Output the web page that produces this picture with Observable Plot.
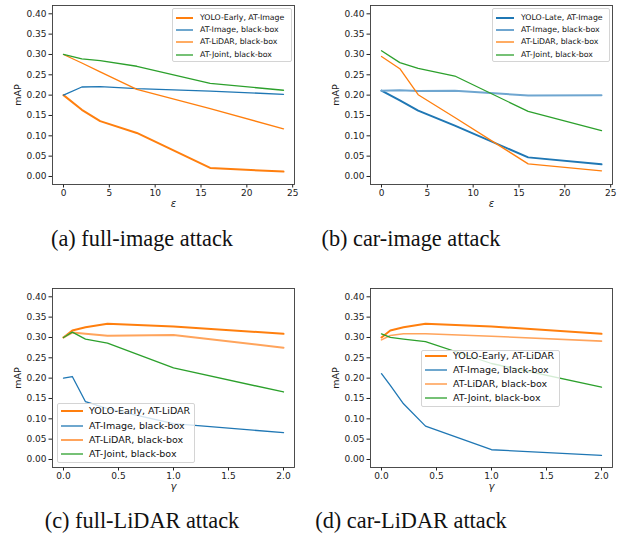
<!DOCTYPE html>
<html><head><meta charset="utf-8">
<script src="https://cdn.jsdelivr.net/npm/d3@7"></script>
<script src="https://cdn.jsdelivr.net/npm/@observablehq/plot@0.6"></script>
<style>
body{margin:0;background:#fff;overflow:hidden;}
#root{position:relative;width:618px;height:537px;}
.panel{position:absolute;}
.panel svg{overflow:visible;}
.cap{position:absolute;font-family:"Liberation Serif","Times New Roman",serif;font-size:22.3px;line-height:24px;color:#111;white-space:nowrap;transform:translateX(-50%);}
.leg{position:absolute;background:rgba(255,255,255,0.8);border:1px solid #d4d4d4;border-radius:2px;box-sizing:border-box;}
.leg .row{position:absolute;font-family:"DejaVu Sans",sans-serif;white-space:nowrap;color:#111;}
.leg svg{position:absolute;overflow:visible;}
g[aria-label="x-axis label"] text{font-style:italic;font-size:10px;}
g[aria-label="y-axis label"] text{font-size:9.5px;}
</style>
</head><body><div id="root"></div>
<script>
// ---- data ----
const epsValues = [0, 2, 4, 8, 16, 24];
const gammaValues = [0, 0.08, 0.2, 0.4, 1.0, 2.0];
const yTickValues = [0, 0.05, 0.10, 0.15, 0.20, 0.25, 0.30, 0.35, 0.40];
const epsTicks = [0, 5, 10, 15, 20, 25];
const gammaTicks = [0, 0.5, 1.0, 1.5, 2.0];

const captions = ["(a) full-image attack", "(b) car-image attack", "(c) full-LiDAR attack", "(d) car-LiDAR attack"];

const namesA = ["YOLO-Early, AT-Image", "AT-Image, black-box", "AT-LiDAR, black-box", "AT-Joint, black-box"];
const namesB = ["YOLO-Late, AT-Image", "AT-Image, black-box", "AT-LiDAR, black-box", "AT-Joint, black-box"];
const namesCD = ["YOLO-Early, AT-LiDAR", "AT-Image, black-box", "AT-LiDAR, black-box", "AT-Joint, black-box"];

const aYolo  = [0.200, 0.164, 0.136, 0.107, 0.021, 0.012];
const aImg   = [0.200, 0.220, 0.221, 0.216, 0.210, 0.202];
const aLidar = [0.300, 0.279, 0.257, 0.214, 0.167, 0.117];
const aJoint = [0.300, 0.289, 0.285, 0.271, 0.229, 0.212];

const bYolo  = [0.211, 0.187, 0.162, 0.125, 0.047, 0.030];
const bImg   = [0.211, 0.212, 0.210, 0.211, 0.199, 0.200];
const bLidar = [0.295, 0.265, 0.201, 0.145, 0.031, 0.014];
const bJoint = [0.309, 0.280, 0.266, 0.247, 0.160, 0.113];

const cYolo  = [0.300, 0.317, 0.325, 0.334, 0.327, 0.309];
const cImg   = [0.200, 0.204, 0.142, 0.125, 0.088, 0.066];
const cLidar = [0.300, 0.312, 0.309, 0.304, 0.306, 0.275];
const cJoint = [0.300, 0.313, 0.296, 0.286, 0.225, 0.166];

const dYolo  = [0.300, 0.317, 0.325, 0.334, 0.327, 0.309];
const dImg   = [0.211, 0.182, 0.137, 0.082, 0.024, 0.010];
const dLidar = [0.294, 0.305, 0.309, 0.309, 0.303, 0.291];
const dJoint = [0.309, 0.300, 0.296, 0.290, 0.236, 0.178];

// ---- styles ----
const ORANGE = "#ff7f0e", BLUE = "#1f77b4", GREEN = "#2ca02c";
const LIGHTBLUE = "#6fa6d0", LIGHTORANGE = "#ffa45c";

const root = document.getElementById("root");

function makePanel(cfg) {
  const marks = [
    Plot.axisY({ticks: yTickValues, tickFormat: d3.format(".2f"), tickSize: 3.5, tickPadding: 2.5,
      label: "mAP", labelAnchor: "center", labelArrow: "none", labelOffset: 38}),
    Plot.axisX({ticks: cfg.xTicks, tickFormat: cfg.xFmt, tickSize: 3.5, tickPadding: 2,
      label: cfg.xLabel, labelAnchor: "center", labelArrow: "none", labelOffset: 22}),
    ...cfg.series.map(s => Plot.line(cfg.xs.map((x, i) => ({x, y: s.values[i]})),
      {x: "x", y: "y", stroke: s.color, strokeWidth: s.width, strokeOpacity: s.opacity ?? 1})),
    Plot.frame({stroke: "#3a3a3a", strokeWidth: 0.9})
  ];
  const chart = Plot.plot({
    width: 300, height: cfg.height,
    marginLeft: 52, marginRight: 6, marginTop: 5, marginBottom: cfg.height - 5 - 179,
    x: {domain: cfg.xDomain},
    y: {domain: [-0.0197, 0.4204]},
    style: {fontFamily: "DejaVu Sans", fontSize: "9px", color: "#222", background: "transparent"},
    marks
  });
  const div = document.createElement("div");
  div.className = "panel";
  div.style.left = cfg.left + "px";
  div.style.top = cfg.top + "px";
  div.appendChild(chart);
  root.appendChild(div);

  // legend
  const L = cfg.legend;
  const box = document.createElement("div");
  box.className = "leg";
  box.style.left = L.left + "px"; box.style.top = L.top + "px";
  box.style.width = L.width + "px"; box.style.height = L.height + "px";
  cfg.series.forEach((s, i) => {
    const y = L.rows[i];
    const sv = document.createElementNS("http://www.w3.org/2000/svg", "svg");
    sv.setAttribute("width", L.hlen); sv.setAttribute("height", 4);
    sv.style.left = L.hx + "px"; sv.style.top = (y - 2) + "px";
    const ln = document.createElementNS("http://www.w3.org/2000/svg", "line");
    ln.setAttribute("x1", 0); ln.setAttribute("x2", L.hlen); ln.setAttribute("y1", 2); ln.setAttribute("y2", 2);
    ln.setAttribute("stroke", s.color); ln.setAttribute("stroke-width", s.width);
    ln.setAttribute("stroke-opacity", s.opacity ?? 1);
    sv.appendChild(ln);
    box.appendChild(sv);
    const t = document.createElement("div");
    t.className = "row";
    t.textContent = s.name;
    t.style.fontSize = L.fs + "px";
    t.style.lineHeight = L.fs + "px";
    t.style.left = L.tx + "px";
    t.style.top = (y - L.fs / 2 - 0.5) + "px";
    box.appendChild(t);
  });
  root.appendChild(box);
}

const fmtEps = d3.format("d");
const fmtGamma = d3.format(".1f");

makePanel({
  left: 0, top: 0, height: 210, xs: epsValues, xDomain: [-1.2, 25.2], xTicks: epsTicks, xFmt: fmtEps, xLabel: "ε",
  series: [
    {name: namesA[0], values: aYolo, color: ORANGE, width: 2},
    {name: namesA[1], values: aImg, color: BLUE, width: 1.3},
    {name: namesA[2], values: aLidar, color: ORANGE, width: 1.3},
    {name: namesA[3], values: aJoint, color: GREEN, width: 1.3}
  ],
  legend: {left: 172, top: 8, width: 120, height: 54, hx: 3, hlen: 17, tx: 27, rows: [9, 21, 33, 46], fs: 7.8}
});

makePanel({
  left: 318, top: 0, height: 210, xs: epsValues, xDomain: [-1.2, 25.2], xTicks: epsTicks, xFmt: fmtEps, xLabel: "ε",
  series: [
    {name: namesB[0], values: bYolo, color: BLUE, width: 2},
    {name: namesB[1], values: bImg, color: LIGHTBLUE, width: 2},
    {name: namesB[2], values: bLidar, color: ORANGE, width: 1.3},
    {name: namesB[3], values: bJoint, color: GREEN, width: 1.3}
  ],
  legend: {left: 492, top: 8, width: 118, height: 54, hx: 3, hlen: 18, tx: 28, rows: [9, 21, 33, 46], fs: 7.8}
});

makePanel({
  left: 0, top: 283, height: 212, xs: gammaValues, xDomain: [-0.1, 2.1], xTicks: gammaTicks, xFmt: fmtGamma, xLabel: "γ",
  series: [
    {name: namesCD[0], values: cYolo, color: ORANGE, width: 2},
    {name: namesCD[1], values: cImg, color: BLUE, width: 1.3},
    {name: namesCD[2], values: cLidar, color: LIGHTORANGE, width: 2},
    {name: namesCD[3], values: cJoint, color: GREEN, width: 1.3}
  ],
  legend: {left: 57, top: 403, width: 138, height: 60, hx: 3, hlen: 22, tx: 31, rows: [7, 22, 36, 50], fs: 9.5}
});

makePanel({
  left: 318, top: 283, height: 212, xs: gammaValues, xDomain: [-0.1, 2.1], xTicks: gammaTicks, xFmt: fmtGamma, xLabel: "γ",
  series: [
    {name: namesCD[0], values: dYolo, color: ORANGE, width: 2},
    {name: namesCD[1], values: dImg, color: BLUE, width: 1.3},
    {name: namesCD[2], values: dLidar, color: LIGHTORANGE, width: 1.6},
    {name: namesCD[3], values: dJoint, color: GREEN, width: 1.3}
  ],
  legend: {left: 421, top: 350, width: 139, height: 57, hx: 3, hlen: 22, tx: 31, rows: [5, 19, 33, 47], fs: 9.5}
});

// captions
[[142, 227], [411, 227], [142, 509], [411, 509]].forEach(([cx, top], i) => {
  const c = document.createElement("div");
  c.className = "cap";
  c.style.left = cx + "px"; c.style.top = top + "px";
  c.textContent = captions[i];
  root.appendChild(c);
});
</script>
</body></html>
